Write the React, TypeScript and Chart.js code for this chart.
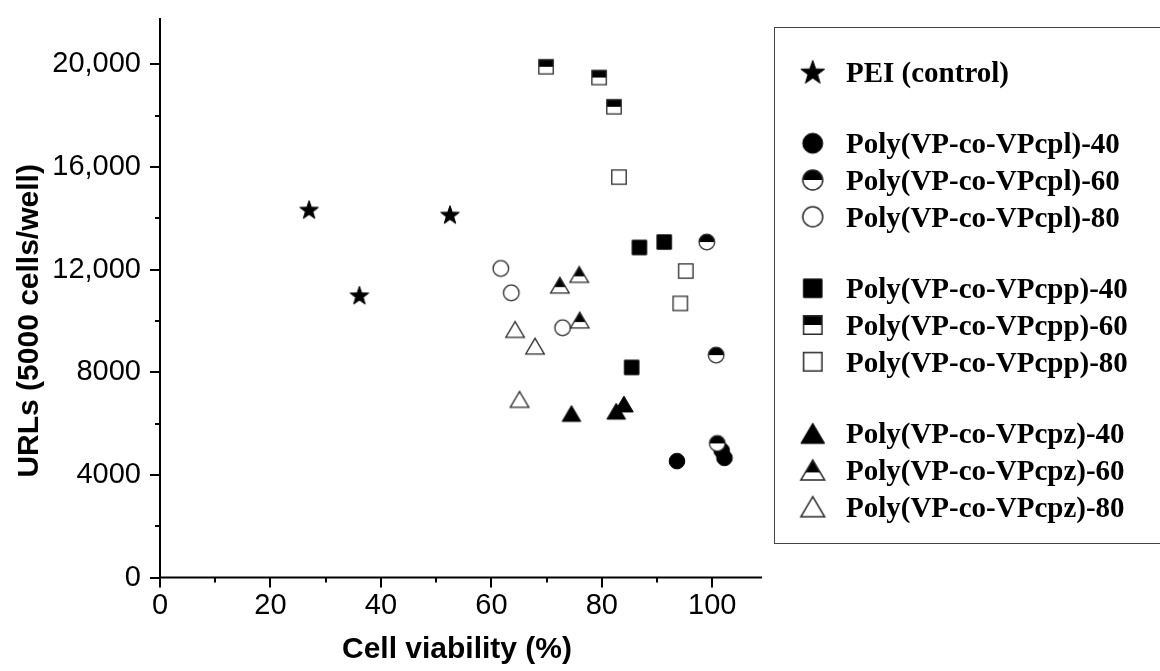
import React, { useEffect, useRef } from 'react';
import { Chart, registerables } from 'chart.js';

Chart.register(...registerables);

// ---- Data ----
const seriesLabels = [
  'PEI (control)',
  'Poly(VP-co-VPcpl)-40',
  'Poly(VP-co-VPcpl)-60',
  'Poly(VP-co-VPcpl)-80',
  'Poly(VP-co-VPcpp)-40',
  'Poly(VP-co-VPcpp)-60',
  'Poly(VP-co-VPcpp)-80',
  'Poly(VP-co-VPcpz)-40',
  'Poly(VP-co-VPcpz)-60',
  'Poly(VP-co-VPcpz)-80',
];

const peiX = [27.0, 36.1, 52.5];
const peiY = [14340, 11000, 14145];
const cpl40X = [93.6, 101.7, 102.2];
const cpl40Y = [4535, 4950, 4660];
const cpl60X = [99.0, 100.7, 100.9];
const cpl60Y = [13070, 8665, 5225];
const cpl80X = [61.7, 63.6, 72.9];
const cpl80Y = [12040, 11090, 9730];
const cpp40X = [86.8, 91.3, 85.4];
const cpp40Y = [12860, 13070, 8185];
const cpp60X = [69.9, 79.5, 82.2];
const cpp60Y = [19900, 19480, 18340];
const cpp80X = [83.1, 95.2, 94.2];
const cpp80Y = [15600, 11940, 10680];
const cpz40X = [74.5, 82.6, 84.0];
const cpz40Y = [6390, 6480, 6760];
const cpz60X = [72.4, 75.9, 76.0];
const cpz60Y = [11390, 11810, 10030];
const cpz80X = [64.3, 67.9, 65.1];
const cpz80Y = [9665, 9015, 6940];

const xTickValues = [0, 20, 40, 60, 80, 100];
const yTickValues = [0, 4000, 8000, 12000, 16000, 20000];
const xTitle = 'Cell viability (%)';
const yTitle = 'URLs (5000 cells/well)';

const seriesX = [peiX, cpl40X, cpl60X, cpl80X, cpp40X, cpp60X, cpp80X, cpz40X, cpz60X, cpz80X];
const seriesY = [peiY, cpl40Y, cpl60Y, cpl80Y, cpp40Y, cpp60Y, cpp80Y, cpz40Y, cpz60Y, cpz80Y];

type Kind = 'star' | 'circle' | 'square' | 'triangle';
type Fill = 'full' | 'half' | 'open';
const markerKinds: Kind[] = ['star', 'circle', 'circle', 'circle', 'square', 'square', 'square', 'triangle', 'triangle', 'triangle'];
const markerFills: Fill[] = ['full', 'full', 'half', 'open', 'full', 'half', 'open', 'full', 'half', 'open'];

function makeMarker(kind: Kind, fill: Fill, s: number): HTMLCanvasElement {
  const size = Math.ceil(26 * s) + 4;
  const c = document.createElement('canvas');
  c.width = size;
  c.height = size;
  const ctx = c.getContext('2d') as CanvasRenderingContext2D;
  const cx = size / 2;
  const cy = size / 2;
  let splitY = cy;
  let top = cy;
  const path = () => {
    ctx.beginPath();
    if (kind === 'circle') {
      const r = 7.8 * s;
      ctx.arc(cx, cy, r, 0, Math.PI * 2);
      top = cy - r;
      splitY = cy;
    } else if (kind === 'square') {
      const h = 7.2 * s;
      ctx.rect(cx - h, cy - h, 2 * h, 2 * h);
      top = cy - h;
      splitY = cy;
    } else if (kind === 'triangle') {
      const hw = 9.3 * s;
      const hh = 7.9 * s;
      ctx.moveTo(cx, cy - hh);
      ctx.lineTo(cx + hw, cy + hh);
      ctx.lineTo(cx - hw, cy + hh);
      ctx.closePath();
      top = cy - hh;
      splitY = cy - hh + 2 * hh * 0.62;
    } else {
      const R = 9.8 * s;
      const r = R * 0.4;
      const oy = cy + R * 0.1;
      for (let i = 0; i < 10; i++) {
        const a = -Math.PI / 2 + (i * Math.PI) / 5;
        const rr = i % 2 === 0 ? R : r;
        const px = cx + rr * Math.cos(a);
        const py = oy + rr * Math.sin(a);
        if (i === 0) ctx.moveTo(px, py);
        else ctx.lineTo(px, py);
      }
      ctx.closePath();
      top = oy - R;
    }
  };
  path();
  if (fill === 'full') {
    ctx.fillStyle = '#000';
    ctx.fill();
    ctx.strokeStyle = '#000';
    ctx.lineWidth = 1;
    ctx.stroke();
  } else {
    ctx.fillStyle = '#fff';
    ctx.fill();
    if (fill === 'half') {
      ctx.save();
      ctx.clip();
      ctx.fillStyle = '#000';
      ctx.fillRect(0, top - 2, size, splitY - top + 2);
      ctx.restore();
      path();
    }
    ctx.strokeStyle = '#2a2a2a';
    ctx.lineWidth = 1.3 * Math.max(1, s * 0.9);
    ctx.stroke();
  }
  return c;
}

const tickFont = 'Arial, "Liberation Sans", sans-serif';

export default function App() {
  const ref = useRef<HTMLCanvasElement | null>(null);

  useEffect(() => {
    const canvas = ref.current;
    if (!canvas) return;
    const plotMarkers = markerKinds.map((k, i) => makeMarker(k, markerFills[i], 1));
    const legendMarkers = markerKinds.map((k, i) => makeMarker(k, markerFills[i], 1.28));
    const n = seriesLabels.length;

    const datasets = seriesLabels.map((label, i) => ({
      label,
      data: seriesX[i].map((x, j) => ({ x, y: seriesY[i][j] })),
      pointStyle: plotMarkers[i] as any,
      pointRadius: 8,
      pointHoverRadius: 8,
      showLine: false,
      order: n - i,
    }));

    const decor = {
      id: 'decor',
      afterDraw(chart: any) {
        const ctx: CanvasRenderingContext2D = chart.ctx;
        const xs = chart.scales.x;
        const ys = chart.scales.y;
        const area = chart.chartArea;
        ctx.save();
        ctx.strokeStyle = '#000';
        ctx.lineWidth = 2;
        // axis lines
        ctx.beginPath();
        ctx.moveTo(area.left, area.top);
        ctx.lineTo(area.left, area.bottom + 1);
        ctx.moveTo(area.left - 1, area.bottom);
        ctx.lineTo(area.right, area.bottom);
        ctx.stroke();
        // ticks (major / minor)
        ctx.beginPath();
        for (let v = 0; v <= 100; v += 10) {
          const px = Math.round(xs.getPixelForValue(v));
          const len = v % 20 === 0 ? 10 : 5;
          ctx.moveTo(px, area.bottom);
          ctx.lineTo(px, area.bottom + len);
        }
        for (let v = 0; v <= 20000; v += 2000) {
          const py = Math.round(ys.getPixelForValue(v));
          const len = v % 4000 === 0 ? 10 : 5;
          ctx.moveTo(area.left, py);
          ctx.lineTo(area.left - len, py);
        }
        ctx.stroke();

        // axis titles
        ctx.fillStyle = '#000';
        ctx.font = 'bold 30px ' + tickFont;
        ctx.textAlign = 'center';
        ctx.textBaseline = 'middle';
        ctx.fillText(xTitle, (area.left + area.right) / 2 - 4, 650);
        ctx.save();
        ctx.translate(30, (ys.getPixelForValue(0) + ys.getPixelForValue(20000)) / 2);
        ctx.rotate(-Math.PI / 2);
        ctx.fillText(yTitle, 0, 0);
        ctx.restore();

        // legend box
        ctx.strokeStyle = '#444';
        ctx.lineWidth = 1;
        ctx.strokeRect(774.5, 27.5, 500, 516);
        const groups = [[0], [1, 2, 3], [4, 5, 6], [7, 8, 9]];
        const rowStep = 36.7;
        const groupGap = 71.6;
        let yPos = 71.7;
        ctx.font = 'bold 29px "Times New Roman", "Liberation Serif", serif';
        ctx.textAlign = 'left';
        ctx.textBaseline = 'alphabetic';
        groups.forEach((g, gi) => {
          if (gi > 0) yPos += groupGap - rowStep;
          g.forEach((idx) => {
            const m = legendMarkers[idx];
            ctx.drawImage(m, 812.7 - m.width / 2, yPos - m.height / 2);
            ctx.fillStyle = '#000';
            ctx.fillText(seriesLabels[idx], 846, yPos + 9.8);
            yPos += rowStep;
          });
        });
        ctx.restore();
      },
    };

    const chart = new Chart(canvas, {
      type: 'scatter',
      data: { datasets: datasets as any },
      options: {
        animation: false,
        responsive: false,
        devicePixelRatio: 1,
        layout: { padding: { top: 18, right: 398, left: 0, bottom: 0 } },
        plugins: {
          legend: { display: false },
          tooltip: { enabled: false },
          title: { display: false },
        },
        scales: {
          x: {
            type: 'linear',
            min: 0,
            max: 109,
            grid: { display: false, drawTicks: false },
            border: { display: false },
            afterFit: (scale: any) => {
              scale.height = 93.5;
              scale.paddingLeft = 0;
              scale.paddingRight = 0;
              scale.paddingTop = 0;
              scale.paddingBottom = 0;
            },
            afterBuildTicks: (scale: any) => {
              scale.ticks = xTickValues.map((v) => ({ value: v }));
            },
            ticks: {
              padding: 11,
              color: '#000',
              font: { family: tickFont, size: 29 },
              maxRotation: 0,
              autoSkip: false,
              callback: (v: any) => String(v),
            },
          },
          y: {
            type: 'linear',
            min: 0,
            max: 21800,
            grid: { display: false, drawTicks: false },
            border: { display: false },
            afterFit: (scale: any) => {
              scale.width = 160;
              scale.paddingLeft = 0;
              scale.paddingRight = 0;
              scale.paddingTop = 0;
              scale.paddingBottom = 0;
            },
            afterBuildTicks: (scale: any) => {
              scale.ticks = yTickValues.map((v) => ({ value: v }));
            },
            ticks: {
              padding: 19,
              color: '#000',
              font: { family: tickFont, size: 29 },
              autoSkip: false,
              callback: (v: any) => (Number(v) >= 10000 ? Number(v).toLocaleString('en-US') : String(v)),
            },
          },
        },
      },
      plugins: [decor],
    });
    return () => chart.destroy();
  }, []);

  return (
    <div style={{ position: 'absolute', left: 0, top: 0, width: 1160, height: 671, background: '#fff' }}>
      <canvas ref={ref} width={1160} height={671} style={{ display: 'block' }} />
    </div>
  );
}
